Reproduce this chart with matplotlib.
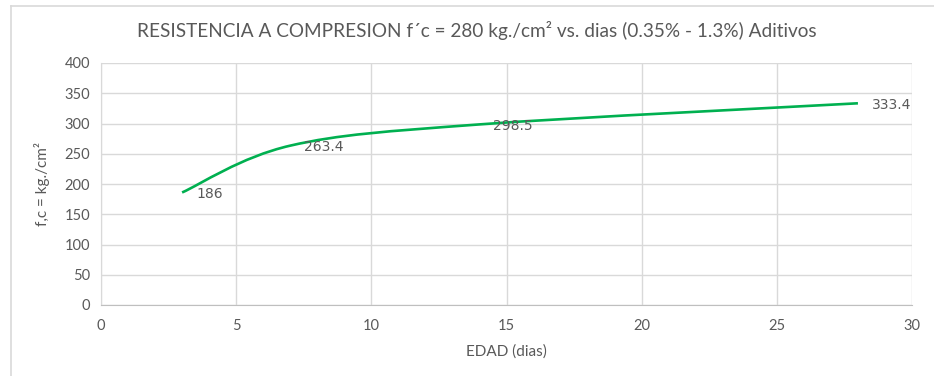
import numpy as np
import matplotlib
matplotlib.use("Agg")
import matplotlib.pyplot as plt
from matplotlib.path import Path
from matplotlib.patches import PathPatch
from matplotlib.lines import Line2D

# Compressive strength vs age
dias = [3, 7, 14, 28]
resistencia = [186.0, 263.4, 298.5, 333.4]
etiquetas = ["186", "263.4", "298.5", "333.4"]

x_ticks = [0, 5, 10, 15, 20, 25, 30]
y_ticks = [0, 50, 100, 150, 200, 250, 300, 350, 400]

narrow = ["Lato", "DejaVu Sans"]
TEXT = "#595959"
GRID = "#D9D9D9"
GREEN = "#00B050"

fig = plt.figure(figsize=(9.34, 3.76), dpi=100)
ax = fig.add_axes([101 / 934, 1 - 305 / 376, (912 - 101) / 934, (305 - 63) / 376])

# Smoothed line (Catmull-Rom style cubic Bezier segments)
x = np.array(dias, float)
y = np.array(resistencia, float)
n = len(x)
verts = [(x[0], y[0])]
codes = [Path.MOVETO]
for i in range(n - 1):
    x0, y0 = (x[i - 1], y[i - 1]) if i > 0 else (x[i], y[i])
    x3, y3 = (x[i + 2], y[i + 2]) if i + 2 < n else (x[i + 1], y[i + 1])
    c1 = (x[i] + (x[i + 1] - x0) / 6, y[i] + (y[i + 1] - y0) / 6)
    c2 = (x[i + 1] - (x3 - x[i]) / 6, y[i + 1] - (y3 - y[i]) / 6)
    verts += [c1, c2, (x[i + 1], y[i + 1])]
    codes += [Path.CURVE4] * 3
ax.add_patch(PathPatch(Path(verts, codes), facecolor="none", edgecolor=GREEN,
                       lw=1.9, capstyle="butt", zorder=3))

for xi, yi, lab in zip(dias, resistencia, etiquetas):
    ax.annotate(lab, (xi, yi), xytext=(10, -1), textcoords="offset points",
                ha="left", va="center", fontsize=10, color=TEXT, zorder=4)

ax.set_xlim(0, 30)
ax.set_ylim(0, 400)
ax.set_xticks(x_ticks)
ax.set_yticks(y_ticks)
ax.grid(True, color=GRID, lw=1.0)
ax.set_axisbelow(True)
for s in ["top", "right"]:
    ax.spines[s].set_visible(False)
ax.spines["left"].set_color(GRID)
ax.spines["bottom"].set_color("#BFBFBF")
ax.tick_params(length=0, pad=10, labelsize=10.5, colors=TEXT)
for lab in ax.get_xticklabels() + ax.get_yticklabels():
    lab.set_family(narrow)
ax.tick_params(axis="y", pad=8)

ax.set_xlabel("EDAD (dias)", fontsize=11, color=TEXT, family=narrow, labelpad=8)
ax.set_ylabel("f,c = kg./cm²", fontsize=11, color=TEXT, family=narrow, labelpad=10)

fig.text(477 / 934, 1 - 31 / 376, "RESISTENCIA A COMPRESION f´c = 280 kg./cm² vs. dias (0.35% - 1.3%) Aditivos",
         ha="center", va="center", fontsize=13.7, color=TEXT, family=narrow)

# chart area border
fig.add_artist(Line2D([11 / 934, 11 / 934], [0, 1 - 6 / 376], transform=fig.transFigure,
                      color=GRID, lw=1.2))
fig.add_artist(Line2D([11 / 934, 1], [1 - 6 / 376, 1 - 6 / 376], transform=fig.transFigure,
                      color=GRID, lw=1.2))

fig.savefig("out.png", dpi=100)
